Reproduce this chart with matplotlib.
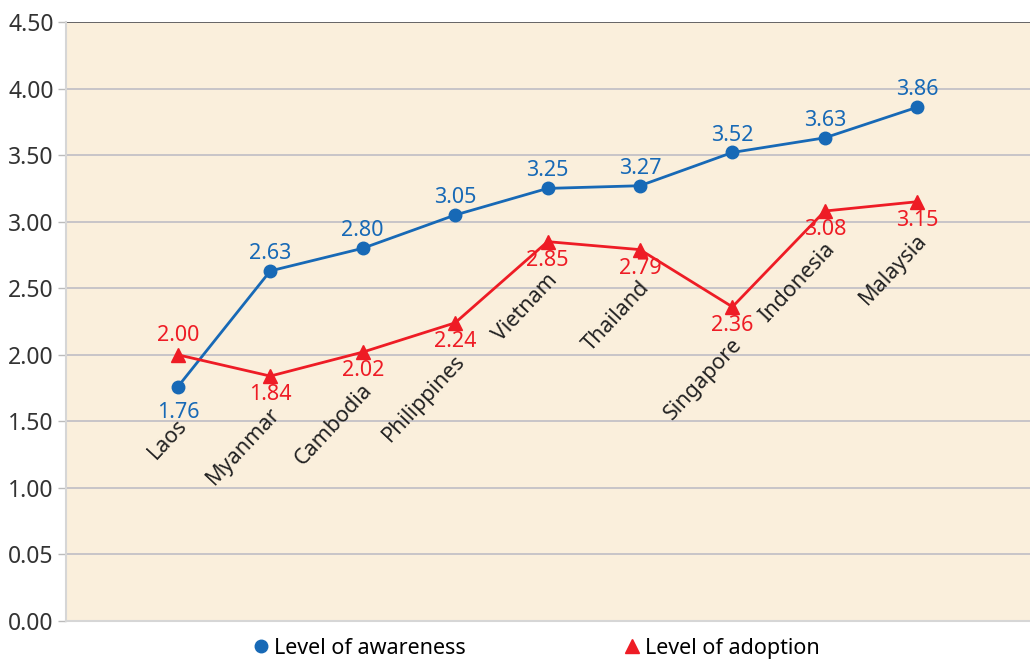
import matplotlib
matplotlib.use("Agg")
import matplotlib.pyplot as plt
import numpy as np

plt.rcParams['font.family'] = ['Noto Sans', 'DejaVu Sans']

countries = ["Laos", "Myanmar", "Cambodia", "Philippines", "Vietnam",
             "Thailand", "Singapore", "Indonesia", "Malaysia"]
awareness = [1.76, 2.63, 2.80, 3.05, 3.25, 3.27, 3.52, 3.63, 3.86]
adoption = [2.00, 1.84, 2.02, 2.24, 2.85, 2.79, 2.36, 3.08, 3.15]
ytick_values = [0, 0.5, 1.0, 1.5, 2.0, 2.5, 3.0, 3.5, 4.0, 4.5]
ytick_labels = ["0.00", "0.05", "1.00", "1.50", "2.00", "2.50",
                "3.00", "3.50", "4.00", "4.50"]

BLUE = "#1769b6"
RED = "#ee1c25"
BG = "#faefdc"
FS = 15.5

fig = plt.figure(figsize=(10.30, 6.61), dpi=100)
ax = fig.add_axes([0.0641, 0.0605, 0.9359, 0.9062])
ax.set_facecolor(BG)

x = np.arange(len(countries))
ax.plot(x, awareness, color=BLUE, lw=2.0, marker='o', ms=9, zorder=3,
        label="Level of awareness")
ax.plot(x, adoption, color=RED, lw=2.0, marker='^', ms=10.5, zorder=3,
        label="Level of adoption")

ax.set_xlim(-1.21, 9.22)
ax.set_ylim(0, 4.5)
ax.set_yticks(ytick_values)
ax.set_yticklabels(ytick_labels, fontsize=16.5, color="#333333")
ax.set_xticks([])
ax.tick_params(axis='y', length=6, color="#bbbbbb", width=1, pad=3)
ax.grid(axis='y', color="#b9b9c2", lw=1.1)
ax.set_axisbelow(True)
for s in ["top", "right"]:
    ax.spines[s].set_visible(False)
ax.spines["left"].set_color("#d6d6d6")
ax.spines["left"].set_linewidth(1.5)
ax.spines["bottom"].set_color("#d6d6d6")
ax.spines["bottom"].set_linewidth(1.5)
ax.axhline(4.5, color="#555555", lw=1.2, zorder=2)

# data labels
for i, (a, d) in enumerate(zip(awareness, adoption)):
    if a < d:
        ax.annotate(f"{a:.2f}", (i, a), xytext=(0, -11), textcoords='offset points',
                    ha='center', va='top', color=BLUE, fontsize=FS)
        ax.annotate(f"{d:.2f}", (i, d), xytext=(0, 6), textcoords='offset points',
                    ha='center', va='bottom', color=RED, fontsize=FS)
    else:
        ax.annotate(f"{a:.2f}", (i, a), xytext=(0, 5), textcoords='offset points',
                    ha='center', va='bottom', color=BLUE, fontsize=FS)
        ax.annotate(f"{d:.2f}", (i, d), xytext=(0, -6), textcoords='offset points',
                    ha='center', va='top', color=RED, fontsize=FS)
    low = min(a, d)
    ax.annotate(countries[i], (i, low), xytext=(-1, -20), textcoords='offset points',
                ha='right', va='top', rotation=47, rotation_mode='anchor',
                color="#222222", fontsize=FS)

leg = fig.legend(loc='lower center', bbox_to_anchor=(0.52, -0.026), ncol=2,
                 frameon=False, fontsize=FS, handlelength=0.9, handletextpad=0.15,
                 columnspacing=7.3)
for h in leg.legend_handles:
    h.set_linestyle('none')

fig.savefig("out.png", dpi=100, facecolor="white")
